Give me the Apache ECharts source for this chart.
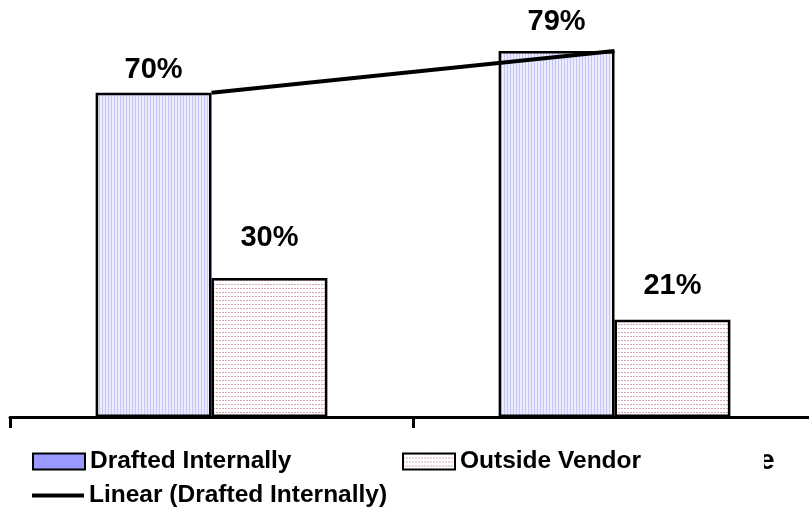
<!DOCTYPE html>
<html>
<head>
<meta charset="utf-8">
<script src="https://cdn.jsdelivr.net/npm/echarts@6/dist/echarts.min.js"></script>
<style>
  html, body { margin: 0; padding: 0; background: #fff; }
  #chart { width: 809px; height: 510px; }
</style>
</head>
<body>
<div id="chart"></div>
<script>
// Two groups, each split between in-house drafting and an outside vendor
const categories = ['Group A', 'Group B'];
const draftedInternally = [70, 79];
const outsideVendor = [30, 21];
// Label gaps above each bar (px), following the hand-placed labels
const internalLabelGap = [8, 14];
const vendorLabelGap = [26, 19];

// Fill patterns drawn on small tiles
function makeTile(w, h, paint) {
  const c = document.createElement('canvas');
  c.width = w; c.height = h;
  const g = c.getContext('2d');
  paint(g);
  return c;
}
const lavenderStripes = makeTile(3, 3, g => {
  g.fillStyle = '#ececff'; g.fillRect(0, 0, 3, 3);
  g.fillStyle = '#c6c6f6'; g.fillRect(0, 0, 1, 3);
});
const pinkDashes = makeTile(3, 4, g => {
  g.fillStyle = '#ffffff'; g.fillRect(0, 0, 3, 4);
  g.fillStyle = '#d9a6b6'; g.fillRect(0, 0, 2, 1);
});
const lavenderFill = { image: lavenderStripes, repeat: 'repeat' };
const pinkFill = { image: pinkDashes, repeat: 'repeat' };

const font = 'Liberation Sans, Arial, sans-serif';
const legendText = { fontFamily: font, fontWeight: 'bold', fontSize: 24.5, color: '#000' };

const chart = echarts.init(document.getElementById('chart'), null, { renderer: 'canvas' });
chart.setOption({
  animation: false,
  backgroundColor: '#fff',
  // the plot runs a little past the right edge, so the last tick is off-canvas
  grid: { left: 10, width: 806, top: 0, bottom: 93, outerBoundsMode: 'none', containLabel: false },
  xAxis: {
    type: 'category',
    data: categories,
    axisLine: { lineStyle: { color: '#000', width: 3 } },
    axisTick: { show: true, length: 11, lineStyle: { color: '#000', width: 3 } },
    axisLabel: { show: false }
  },
  yAxis: {
    type: 'value', min: 0, max: 90,
    show: false, splitLine: { show: false }
  },
  legend: [
    {
      left: 32, top: 449, itemWidth: 52, itemHeight: 16, itemGap: 0,
      textStyle: legendText, padding: 0,
      data: [{ name: 'Drafted Internally', icon: 'rect',
        itemStyle: { color: '#9999ff', borderColor: '#000', borderWidth: 2 } }]
    },
    {
      left: 402, top: 449, itemWidth: 52, itemHeight: 16, itemGap: 0,
      textStyle: legendText, padding: 0,
      data: [{ name: 'Outside Vendor', icon: 'rect',
        itemStyle: { color: pinkFill, borderColor: '#000', borderWidth: 2 } }]
    },
    {
      left: 32, top: 483, itemWidth: 52, itemHeight: 4, itemGap: 0,
      textStyle: legendText, padding: 0,
      data: [{ name: 'Linear (Drafted Internally)', icon: 'rect',
        itemStyle: { color: '#000', borderWidth: 0 } }]
    }
  ],
  series: [
    {
      name: 'Drafted Internally',
      type: 'bar',
      barGap: 0,
      barCategoryGap: '42.5%',
      data: draftedInternally.map((v, i) => ({
        value: v,
        label: { distance: internalLabelGap[i] }
      })),
      itemStyle: { color: lavenderFill, borderColor: '#000', borderWidth: 2.5 },
      label: {
        show: true, position: 'top', formatter: '{c}%',
        fontFamily: font, fontWeight: 'bold', fontSize: 29, color: '#000'
      }
    },
    {
      name: 'Outside Vendor',
      type: 'bar',
      data: outsideVendor.map((v, i) => ({
        value: v,
        label: { distance: vendorLabelGap[i] }
      })),
      itemStyle: { color: pinkFill, borderColor: '#000', borderWidth: 2.5 },
      label: {
        show: true, position: 'top', formatter: '{c}%',
        fontFamily: font, fontWeight: 'bold', fontSize: 29, color: '#000'
      }
    },
    {
      // straight-line trend through the in-house values
      name: 'Linear (Drafted Internally)',
      type: 'line',
      data: draftedInternally,
      symbol: 'none',
      z: 5,
      lineStyle: { color: '#000', width: 4 }
    }
  ],
  graphic: [
    {
      // trailing letter of a cut-off caption; its left side is masked
      type: 'text', left: 759, top: 447, z: 10,
      style: { text: 'e', font: 'bold 28px Liberation Sans, Arial, sans-serif', fill: '#000' }
    },
    {
      type: 'rect', left: 755, top: 450, z: 11,
      shape: { width: 9, height: 26 },
      style: { fill: '#fff' }
    }
  ]
});
</script>
</body>
</html>
